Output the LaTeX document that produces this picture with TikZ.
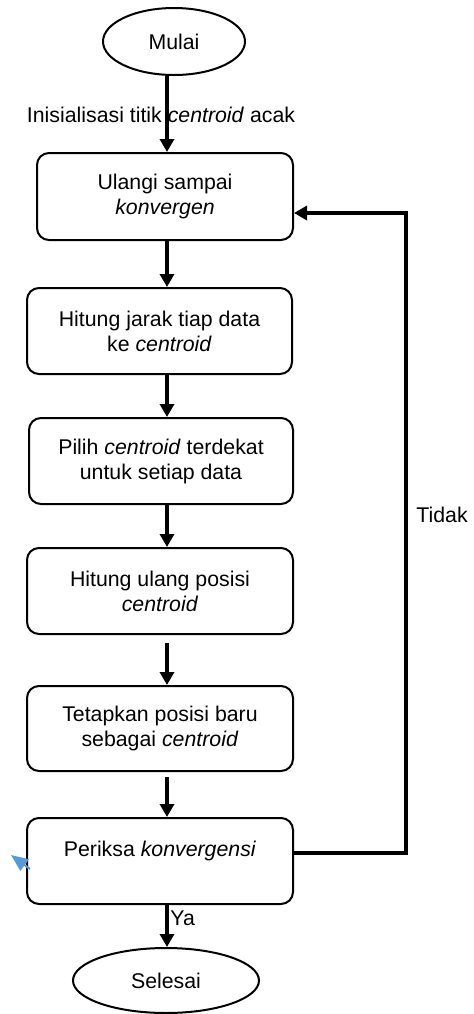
\documentclass[tikz,border=0pt]{standalone}
\usepackage{fontspec}
\setmainfont{Liberation Sans}
\usetikzlibrary{arrows.meta,shapes.geometric}
\definecolor{cursorblue}{HTML}{5B9BD5}
\begin{document}
\begin{tikzpicture}[x=0.5pt,y=-0.5pt,
  every node/.style={font=\fontsize{10.65pt}{12.5pt}\selectfont},
  terminal/.style={draw,line width=1pt,ellipse,inner sep=0pt},
  process/.style={draw,line width=1pt,rounded corners=6pt,align=center,inner sep=0pt},
  flow/.style={line width=2pt,-{Triangle[width=7pt,length=6.5pt]}},
  loopline/.style={line width=2pt,-{Triangle[width=7pt,length=6.5pt]}},
  lbl/.style={inner sep=0pt}]
\useasboundingbox (0,0) rectangle (473,1014);

% main column of the flow
\coordinate (col) at (167,0);

\node[terminal,minimum width=71pt,minimum height=33.5pt] (start) at (174,41.5) {Mulai};
\node[process,minimum width=128pt,minimum height=43.5pt] (b1) at (165,196.5)
  {Ulangi sampai\\ \textit{konvergen}};
\node[process,minimum width=132.5pt,minimum height=43pt] (b2) at (159.5,331)
  {Hitung jarak tiap data\\ ke \textit{centroid}};
\node[process,minimum width=132pt,minimum height=43pt] (b3) at (161,461)
  {Pilih \textit{centroid} terdekat\\ untuk setiap data};
\node[process,minimum width=133pt,minimum height=43pt] (b4) at (160,591)
  {Hitung ulang posisi\\ \textit{centroid}};
\node[process,minimum width=133pt,minimum height=42.5pt] (b5) at (160,728.5)
  {Tetapkan posisi baru\\ sebagai \textit{centroid}};
\node[process,minimum width=133pt,minimum height=43pt] (b6) at (160,861)
  {Periksa \textit{konvergensi}\\ \mbox{}};
\node[terminal,minimum width=93pt,minimum height=32.5pt] (end) at (166,980.5) {Selesai};

% straight-down connectors
\draw[flow] (start.south -| col) -- (b1.north -| col);
\draw[flow] (b1.south -| col) -- (b2.north -| col);
\draw[flow] (b2.south -| col) -- (b3.north -| col);
\draw[flow] (b3.south -| col) -- (b4.north -| col);
\draw[flow,shorten <=4pt] (b4.south -| col) -- (b5.north -| col);
\draw[flow,shorten <=2.5pt] (b5.south -| col) -- (b6.north -| col);
\draw[flow] (b6.south -| col) -- (end.north -| col);

% loop back when not converged
\coordinate (loopbot) at (406,853);
\coordinate (looptop) at (406,213);
\draw[loopline] (b6.east |- loopbot) -- (loopbot) -- (looptop) -- (b1.east |- looptop);

% labels
\node[lbl] (init) at (161,115) {Inisialisasi titik \textit{centroid} acak};
\node[lbl,anchor=west] (ya) at (170,918) {Ya};
\node[lbl,anchor=west] (tidak) at (416,515) {Tidak};

% small blue pointer
\coordinate (ptail) at (30,869);
\coordinate (ptip) at (11,855);
\draw[cursorblue,line width=1pt,-{Triangle[width=7pt,length=8.5pt]}] (ptail) -- (ptip);
\end{tikzpicture}
\end{document}
